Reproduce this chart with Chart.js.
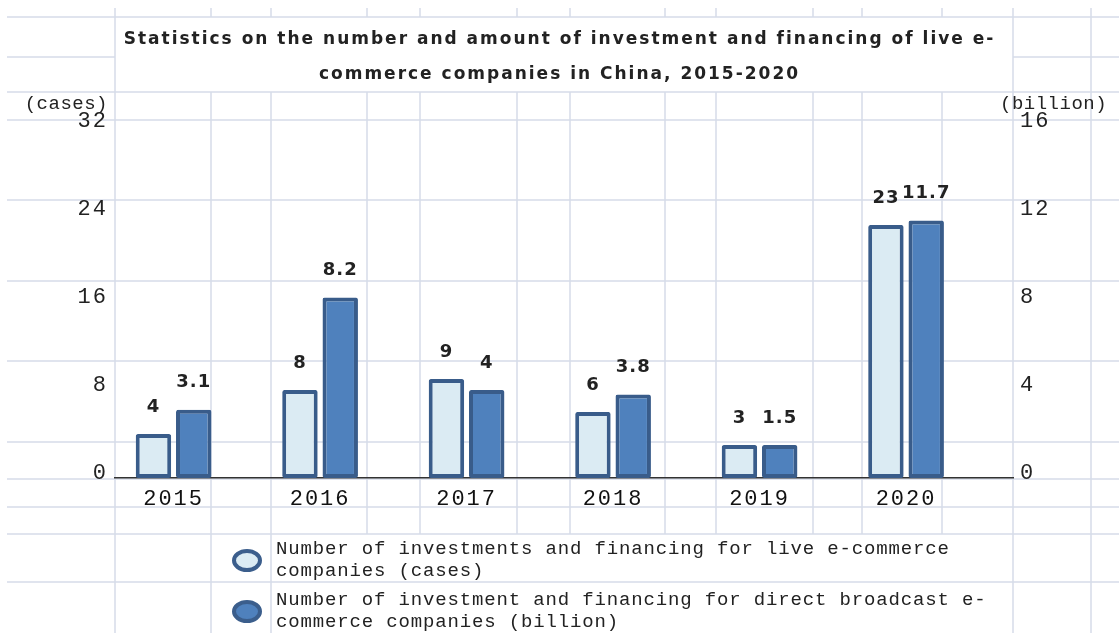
<!DOCTYPE html>
<html>
<head>
<meta charset="utf-8">
<script src="https://cdn.jsdelivr.net/npm/chart.js@4.4.0/dist/chart.umd.min.js"></script>
<style>
  html, body { margin: 0; padding: 0; background: #fff; }
  #wrap { position: relative; width: 1119px; height: 633px; overflow: hidden; }
  #myChart { position: absolute; left: 0; top: 0; }
  .legend-item { position: absolute; left: 232px; display: flex; align-items: center; }
  .dot { width: 22px; height: 15px; border: 4px solid #3b5e8c; border-radius: 50%; margin-right: 14px; }
  .legend-text { font: 19px "Liberation Mono", monospace; letter-spacing: 0.85px; line-height: 22px; color: #222; white-space: pre; }
</style>
</head>
<body>
<div id="wrap">
  <canvas id="myChart" width="1119" height="633"></canvas>
  <div id="legend"></div>
</div>
<script>
// chart data
const years = ['2015', '2016', '2017', '2018', '2019', '2020'];
const casesData = [4, 8, 9, 6, 3, 23];
const amountData = [3.1, 8.2, 4, 3.8, 1.5, 11.7];
const leftTicks = [0, 8, 16, 24, 32];
const rightTicks = [0, 4, 8, 12, 16];

const titleLines = [
    'Statistics on the number and amount of investment and financing of live e-',
    'commerce companies in China, 2015-2020'
];
const legendLines = [
    ['Number of investments and financing for live e-commerce', 'companies (cases)'],
    ['Number of investment and financing for direct broadcast e-', 'commerce companies (billion)']
];

const lightFill = 'rgb(219, 235, 243)';
const darkFill = 'rgb(79, 129, 189)';
const edge = 'rgb(57, 92, 138)';
const gridColor = 'rgb(214, 220, 233)';

// spreadsheet cell lines behind the chart
const sheetRows = [17, 92, 120, 200, 281, 361, 442, 479, 507, 534, 582];
const sheetCols = [115, 211, 271, 367, 420, 517, 570, 665, 716, 813, 862, 942, 1013, 1091];

// the original text is widely spaced
const spacingPlugin = {
    id: 'spacing',
    beforeUpdate(chart) { chart.ctx.letterSpacing = '2px'; },
    beforeDraw(chart) { chart.ctx.letterSpacing = '2px'; }
};

const sheetPlugin = {
    id: 'sheet',
    beforeDraw(chart) {
        const c = chart.ctx;
        c.save();
        c.strokeStyle = gridColor;
        c.lineWidth = 1.5;
        c.beginPath();
        sheetRows.forEach(y => { c.moveTo(7, y); c.lineTo(1119, y); });
        c.moveTo(7, 57); c.lineTo(115, 57);
        c.moveTo(1013, 57); c.lineTo(1119, 57);
        sheetCols.forEach(x => {
            c.moveTo(x, 8); c.lineTo(x, 17);
            if (x === 115 || x === 1013 || x === 1091) {
                c.moveTo(x, 17); c.lineTo(x, 633);
            } else if (x === 211 || x === 271) {
                c.moveTo(x, 92); c.lineTo(x, 633);
            } else {
                c.moveTo(x, 92); c.lineTo(x, 534);
            }
        });
        c.stroke();
        c.restore();
    }
};

// value labels above bars + unit labels
const labelPlugin = {
    id: 'valueLabels',
    afterDatasetsDraw(chart) {
        const c = chart.ctx;
        c.save();
        c.letterSpacing = '1px';
        c.font = 'bold 18px "DejaVu Sans"';
        c.fillStyle = '#222';
        c.textAlign = 'center';
        c.textBaseline = 'middle';
        chart.data.datasets.forEach((ds, i) => {
            chart.getDatasetMeta(i).data.forEach((bar, j) => {
                c.fillText(String(ds.data[j].y), bar.x, bar.y - 27);
            });
        });
        c.letterSpacing = '0.5px';
        c.font = '19px "Liberation Mono"';
        c.textAlign = 'right';
        c.fillText('(cases)', chart.scales.y.right - 7, 104);
        c.textAlign = 'left';
        c.fillText('(billion)', 1000, 104);
        c.restore();
    }
};

const ctx = document.getElementById('myChart').getContext('2d');
const myChart = new Chart(ctx, {
    type: 'bar',
    data: {
        datasets: [{
            label: legendLines[0].join(' '),
            data: casesData.map((v, i) => ({ x: i, y: v })),
            yAxisID: 'y',
            backgroundColor: lightFill,
            borderColor: edge,
            borderWidth: 4,
            borderRadius: 2,
            borderSkipped: false
        }, {
            label: legendLines[1].join(' '),
            data: amountData.map((v, i) => ({ x: i, y: v })),
            yAxisID: 'y1',
            backgroundColor: darkFill,
            borderColor: edge,
            borderWidth: 4,
            borderRadius: 2,
            borderSkipped: false
        }]
    },
    options: {
        responsive: false,
        animation: false,
        categoryPercentage: 0.55,
        barPercentage: 0.88,
        layout: { padding: 0 },
        plugins: {
            legend: { display: false },
            tooltip: { enabled: false },
            title: {
                display: true,
                text: titleLines,
                color: '#222',
                font: { family: '"DejaVu Sans"', size: 17, weight: 'bold', lineHeight: 35 / 17 },
                padding: { top: 22.5, bottom: 33.5 }
            }
        },
        scales: {
            x: {
                type: 'linear',
                offset: false,
                min: -0.4,
                max: 5.73,
                grid: { display: false, drawTicks: false },
                border: { display: true, color: '#333', width: 1.5 },
                afterBuildTicks: (scale) => { scale.ticks = years.map((y, i) => ({ value: i })); },
                afterFit: (scale) => { scale.height = 155; },
                ticks: {
                    autoSkip: false,
                    maxRotation: 0,
                    padding: 8,
                    color: '#111',
                    font: { family: '"Liberation Mono"', size: 22 },
                    callback: (v) => years[v]
                }
            },
            y: {
                position: 'left',
                min: leftTicks[0],
                max: leftTicks[leftTicks.length - 1],
                grid: { display: false, drawTicks: false },
                border: { display: false },
                afterFit: (scale) => { scale.width = 115; },
                ticks: {
                    stepSize: leftTicks[1] - leftTicks[0],
                    padding: 7,
                    labelOffset: -5,
                    color: '#222',
                    font: { family: '"Liberation Mono"', size: 22 }
                }
            },
            y1: {
                position: 'right',
                min: rightTicks[0],
                max: rightTicks[rightTicks.length - 1],
                grid: { display: false, drawTicks: false },
                border: { display: false },
                afterFit: (scale) => { scale.width = 106; },
                ticks: {
                    stepSize: rightTicks[1] - rightTicks[0],
                    padding: 7,
                    labelOffset: -5,
                    color: '#222',
                    font: { family: '"Liberation Mono"', size: 22 }
                }
            }
        }
    },
    plugins: [spacingPlugin, sheetPlugin, labelPlugin]
});

// legend below the plot, two wrapped lines per entry
const legendBox = document.getElementById('legend');
const legendTops = [538, 589];
myChart.data.datasets.forEach((ds, i) => {
    const item = document.createElement('div');
    item.className = 'legend-item';
    item.style.top = legendTops[i] + 'px';
    const dot = document.createElement('div');
    dot.className = 'dot';
    dot.style.background = ds.backgroundColor;
    const txt = document.createElement('div');
    txt.className = 'legend-text';
    txt.textContent = legendLines[i].join('\n');
    item.appendChild(dot);
    item.appendChild(txt);
    legendBox.appendChild(item);
});
</script>
</body>
</html>
